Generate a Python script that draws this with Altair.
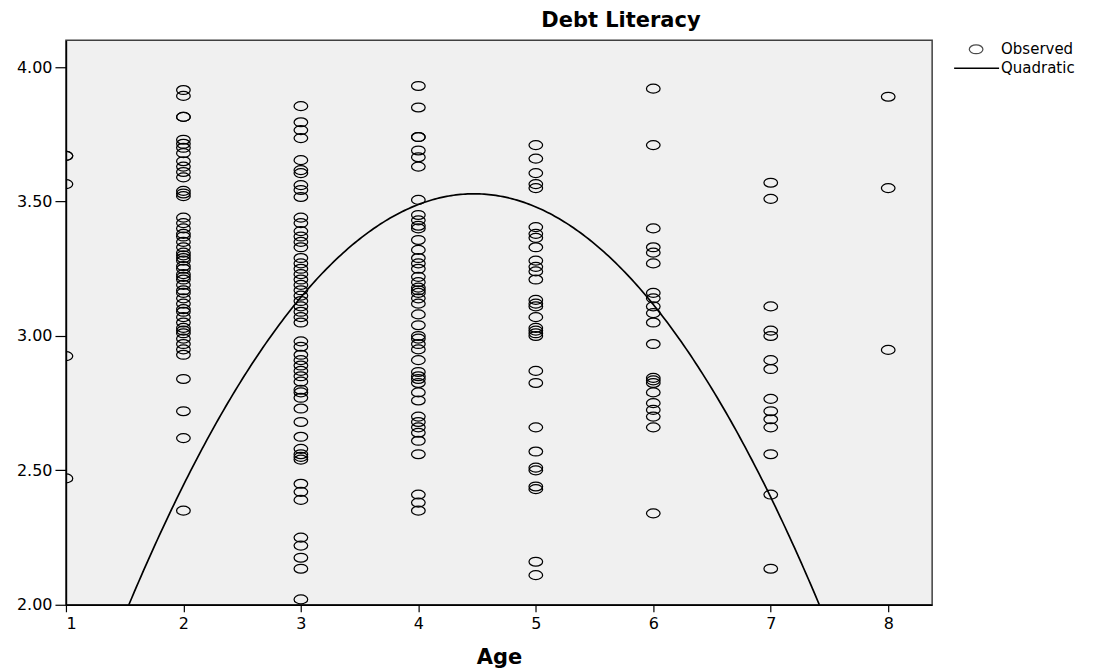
import altair as alt
import pandas as pd

# ---- data ----
age_1 = [3.67, 3.67, 3.565, 2.925, 2.47]
age_2 = [3.915, 3.893, 3.815, 3.815, 3.73, 3.715, 3.70, 3.68, 3.65, 3.63, 3.61, 3.59,
         3.54, 3.53, 3.52, 3.44, 3.42, 3.40, 3.38, 3.37, 3.35, 3.33, 3.31, 3.30, 3.29,
         3.28, 3.26, 3.25, 3.23, 3.22, 3.21, 3.19, 3.17, 3.16, 3.14, 3.12, 3.10, 3.09,
         3.07, 3.05, 3.03, 3.02, 3.01, 2.99, 2.97, 2.95, 2.93, 2.84, 2.72, 2.62, 2.35]
age_3 = [3.855, 3.795, 3.766, 3.736, 3.654, 3.617, 3.606, 3.561, 3.543, 3.517, 3.44,
         3.42, 3.39, 3.37, 3.35, 3.33, 3.29, 3.27, 3.25, 3.23, 3.21, 3.19, 3.17, 3.15,
         3.13, 3.11, 3.09, 3.07, 3.05, 2.98, 2.96, 2.93, 2.91, 2.89, 2.87, 2.85, 2.83,
         2.80, 2.79, 2.77, 2.73, 2.68, 2.625, 2.58, 2.56, 2.55, 2.54, 2.45, 2.42, 2.39,
         2.25, 2.22, 2.175, 2.134, 2.02]
age_4 = [3.93, 3.85, 3.74, 3.74, 3.69, 3.665, 3.63, 3.506, 3.45, 3.43, 3.41, 3.40,
         3.357, 3.32, 3.29, 3.27, 3.25, 3.22, 3.20, 3.18, 3.17, 3.16, 3.14, 3.12, 3.08,
         3.04, 3.00, 2.99, 2.97, 2.95, 2.91, 2.866, 2.85, 2.84, 2.825, 2.79, 2.76, 2.70,
         2.68, 2.66, 2.64, 2.61, 2.56, 2.41, 2.38, 2.35]
age_5 = [3.71, 3.66, 3.606, 3.565, 3.55, 3.405, 3.38, 3.365, 3.33, 3.28, 3.257, 3.24,
         3.21, 3.134, 3.12, 3.11, 3.07, 3.03, 3.02, 3.01, 3.00, 2.87, 2.825, 2.66, 2.57,
         2.51, 2.50, 2.44, 2.43, 2.16, 2.11]
age_6 = [3.92, 3.71, 3.40, 3.33, 3.31, 3.27, 3.16, 3.14, 3.11, 3.085, 3.05, 2.97,
         2.844, 2.835, 2.825, 2.79, 2.75, 2.725, 2.70, 2.66, 2.34]
age_7 = [3.57, 3.51, 3.11, 3.02, 3.00, 2.91, 2.877, 2.766, 2.72, 2.69, 2.66, 2.56,
         2.41, 2.134]
age_8 = [3.89, 3.55, 2.948]

# quadratic fit coefficients: y = b0 + b1*x + b2*x^2
b0, b1, b2 = -0.015, 1.584, -0.177

x_ticks = [1, 2, 3, 4, 5, 6, 7, 8]
y_ticks = [2.0, 2.5, 3.0, 3.5, 4.0]
legend_labels = ["Observed", "Quadratic"]

groups = [age_1, age_2, age_3, age_4, age_5, age_6, age_7, age_8]
rows = []
for a, vals in zip(x_ticks, groups):
    for v in vals:
        rows.append({"Age": a, "Debt": v})
obs = pd.DataFrame(rows)

FONT = "DejaVu Sans"
W, H = 867, 565

x_scale = alt.Scale(domain=[1, 8.374], nice=False, zero=False)
y_scale = alt.Scale(domain=[2, 4.1], nice=False, zero=False)

x_axis = alt.Axis(values=x_ticks, format="d", title="Age", titleFont=FONT,
                  titleFontSize=21, titleFontWeight="bold", titleColor="black",
                  titlePadding=15, labelFont=FONT, labelFontSize=16,
                  labelColor="black", tickSize=7, tickColor="black", tickWidth=1.2,
                  domainColor="black", domainWidth=1.5, grid=False, labelPadding=4)
y_axis = alt.Axis(values=y_ticks, format=".2f", title=None, labelFont=FONT,
                  labelFontSize=16, labelColor="black", tickSize=11,
                  tickColor="black", tickWidth=1.2, domainColor="black",
                  domainWidth=1.5, grid=False, labelPadding=3)

ellipse = "M -1.3 0 A 1.3 0.85 0 1 1 1.3 0 A 1.3 0.85 0 1 1 -1.3 0 Z"

points = alt.Chart(obs).mark_point(
    shape=ellipse, size=110, filled=False, color="black", strokeWidth=1.25,
    clip=True, opacity=1
).encode(
    x=alt.X("Age:Q", scale=x_scale, axis=x_axis),
    y=alt.Y("Debt:Q", scale=y_scale, axis=y_axis),
)

curve = alt.Chart(alt.sequence(1.0, 8.4, 0.02, as_="age")).transform_calculate(
    fit=f"{b0} + {b1}*datum.age + {b2}*datum.age*datum.age"
).mark_line(color="black", strokeWidth=1.7, clip=True).encode(
    x=alt.X("age:Q", scale=x_scale, axis=x_axis),
    y=alt.Y("fit:Q", scale=y_scale, axis=y_axis),
)

# manual legend (outside the plot area)
leg_sym = alt.Chart(pd.DataFrame({"k": [0]})).mark_point(
    shape=ellipse, size=110, filled=False, color="black", strokeWidth=1.25
).encode(x=alt.value(911), y=alt.value(9))
leg_line = alt.Chart(pd.DataFrame({"k": [0]})).mark_rule(
    color="black", strokeWidth=1.6
).encode(x=alt.value(889), x2=alt.value(934), y=alt.value(28))
leg_text = alt.Chart(pd.DataFrame({"t": legend_labels, "yy": [9, 28]})).mark_text(
    align="left", baseline="middle", font=FONT, fontSize=15, color="black"
).encode(x=alt.value(936), y=alt.Y("yy:Q", scale=None, axis=None), text="t:N")

chart = alt.layer(points, curve, leg_sym, leg_line, leg_text).properties(
    width=W, height=H,
    title=alt.TitleParams("Debt Literacy", font=FONT, fontSize=21,
                          fontWeight="bold", color="black", anchor="middle",
                          dx=122, offset=9),
    autosize=alt.AutoSizeParams(type="none"),
    padding={"left": 58, "top": 32, "right": 160, "bottom": 66},
).configure_view(
    fill="#f0f0f0", stroke="#404040", strokeWidth=1.5
)

chart.save("out.html", embed_options={"renderer": "svg", "actions": False})
